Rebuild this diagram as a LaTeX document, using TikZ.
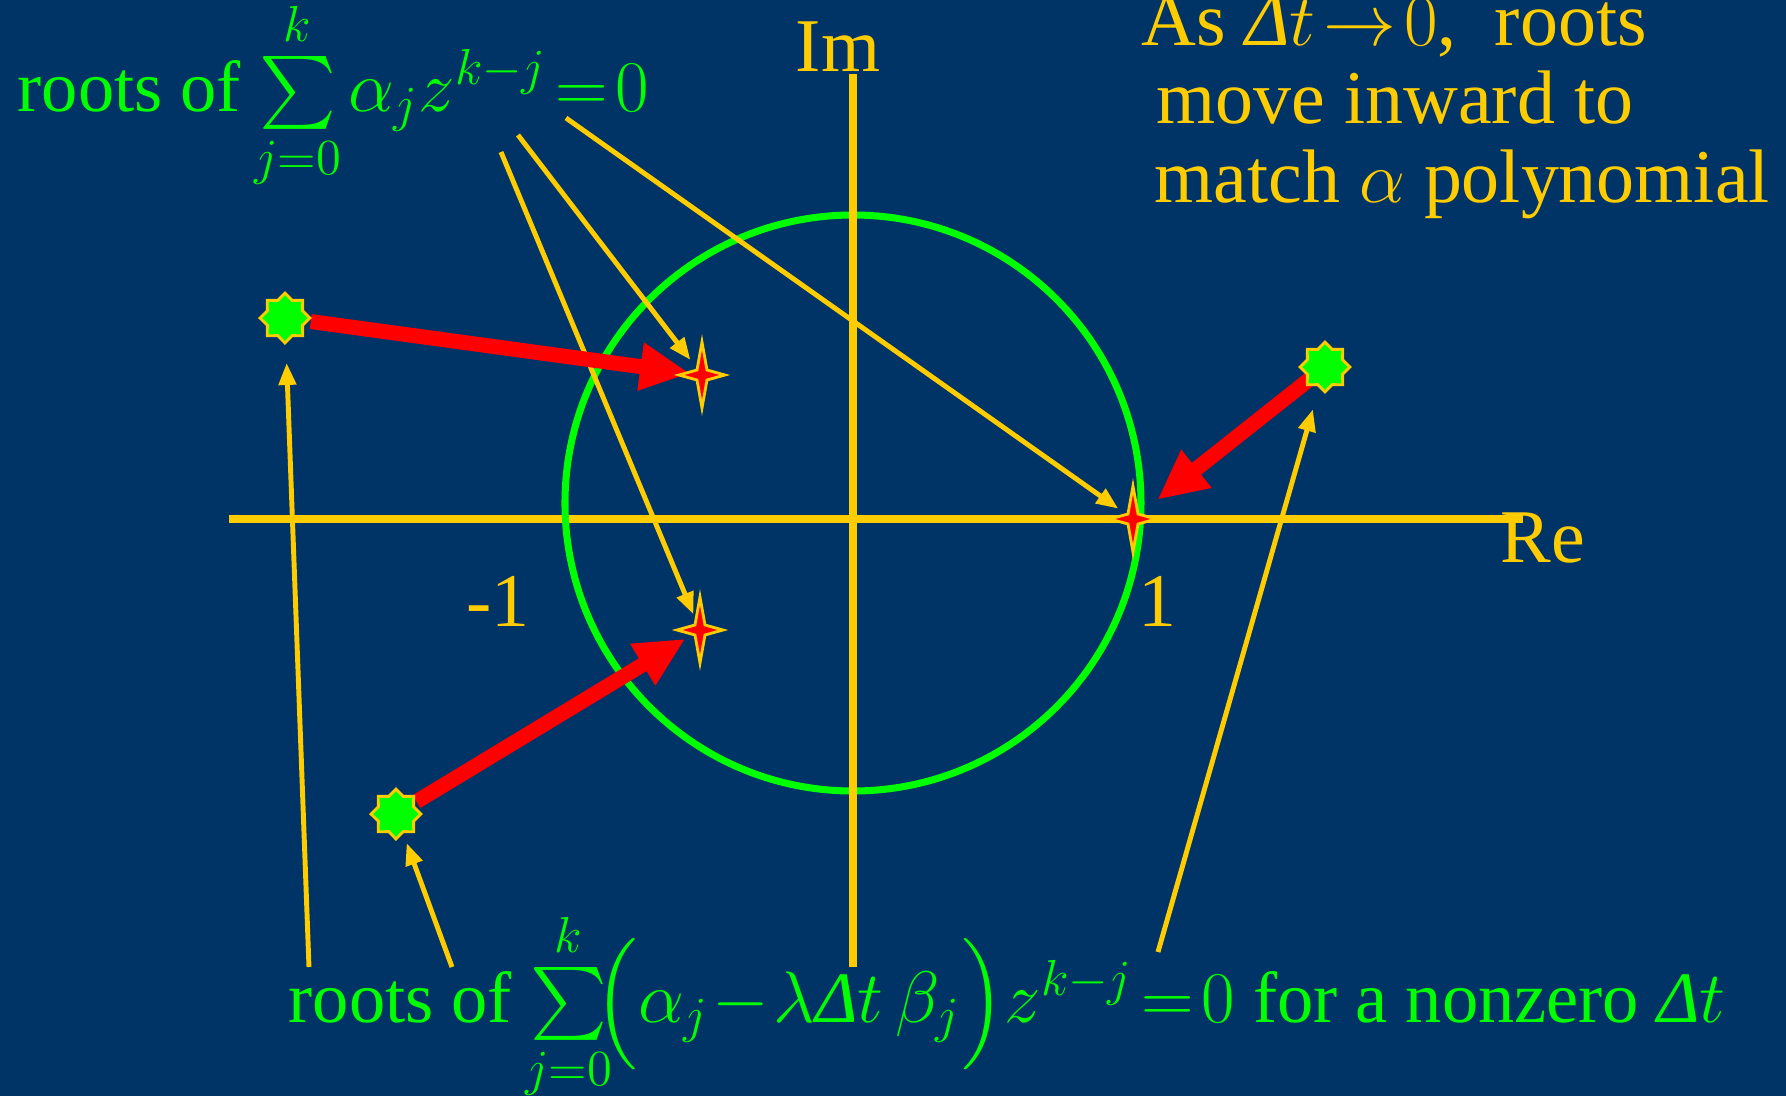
\documentclass[tikz,border=0pt]{standalone}
\usepackage{exscale}
\usepackage{fontspec}
\setmainfont{Liberation Serif}
\usetikzlibrary{arrows.meta,shapes.geometric}
\definecolor{zpBackFill}{HTML}{003366}
\definecolor{zpYellowLine}{HTML}{FFCC00}
\definecolor{zpGreenLine}{HTML}{00FF00}
\definecolor{zpRedLine}{HTML}{FF0000}
\newcommand\zpClap[1]{\makebox[0pt]{$\scriptstyle #1$}}
\newcommand\zpDelta{\mbox{\itshape Δ}}

\tikzset{
  zpFont/.style={font=\fontsize{20.6}{22}\selectfont, inner sep=0pt},
  zpNoteFont/.style={font=\fontsize{21.6}{22}\selectfont, inner sep=0pt},
  zpAxis/.style={zpYellowLine, line width=2pt},
  zpPointer/.style={zpYellowLine, line width=1.4pt,
    -{Triangle[length=0.22cm,width=0.17cm]}},
  zpShift/.style={zpRedLine, line width=0.15cm,
    -{Triangle[length=0.5cm,width=0.45cm]}},
  zpOldRoot/.style={star, star points=8, star point ratio=1.31,
    minimum size=0.5cm, inner sep=0pt, fill=zpGreenLine,
    draw=zpYellowLine, line width=0.8pt},
  zpNewRoot/.pic={
    \filldraw[fill=zpRedLine, draw=zpYellowLine, line width=0.8pt]
      (0,0.33) -- (0.05,0.05) -- (0.23,0) -- (0.05,-0.05)
      -- (0,-0.33) -- (-0.05,-0.05) -- (-0.23,0) -- (-0.05,0.05) -- cycle;
  }
}

\begin{document}
\thickmuskip=2mu\relax
\medmuskip=1mu\relax
\begin{tikzpicture}

\def\R{2.88}      % radius of the unit circle
\def\cy{0.16}     % circle centre sits a little above the real axis

% --- BACKGROUND ---
\path[use as bounding box, fill=zpBackFill] (-8.53,-5.77) rectangle (9.33,5.19);

% --- AXES AND UNIT CIRCLE ---
\draw[zpAxis] (-6.24,0) -- (6.70,0);                 % real axis
\draw[zpGreenLine, line width=2pt] (0,\cy) circle (\R);
\draw[zpAxis] (0,-4.48) -- (0,4.45);                 % imaginary axis

\node[zpNoteFont, zpYellowLine, anchor=base] (imLabel) at (-0.15,4.48) {Im};
\node[zpNoteFont, zpYellowLine, anchor=base west] (reLabel) at (6.47,-0.43) {Re};
\node[zpNoteFont, zpYellowLine, anchor=base] (minusOne) at (-3.55,-1.07) {-1};
\node[zpNoteFont, zpYellowLine, anchor=base] (plusOne) at (3.04,-1.07) {1};

% --- ROOT POSITIONS ---
\coordinate (dtRootUL) at (-5.68,2.01);
\coordinate (dtRootLL) at (-4.57,-2.95);
\coordinate (dtRootR)  at (4.72,1.52);
\coordinate (alRootU)  at (-1.51,1.44);
\coordinate (alRootL)  at (-1.53,-1.11);
\coordinate (alRootOne) at (2.80,0);

% --- LABELS ---
\node[zpFont, zpGreenLine, anchor=base west] (alphaLabel) at (-8.36,4.08)
  {roots of $\sum\limits_{\zpClap{j=0}}^{k}\alpha_j z^{k-j} = 0$};
\node[zpFont, zpGreenLine, anchor=base west] (dtLabel) at (-5.65,-5.03)
  {roots of $\sum\limits_{\zpClap{j=0}}^{k}\!\Bigl(\alpha_j-\lambda\zpDelta t\,\beta_j\Bigr)z^{k-j}=0$ for a nonzero $\zpDelta t$};
\node[zpNoteFont, zpYellowLine, anchor=base west] (noteOne) at (2.88,4.74)
  {As $\zpDelta t\to 0$, \ roots};
\node[zpNoteFont, zpYellowLine, anchor=base west] (noteTwo) at (3.03,3.96)
  {move inward to};
\node[zpNoteFont, zpYellowLine, anchor=base west] (noteThree) at (3.01,3.17)
  {match $\alpha$ polynomial};

% --- POINTERS FROM THE LABELS ---
\coordinate (alphaTail1) at (-2.87,4.01);
\coordinate (alphaTail2) at (-3.35,3.84);
\coordinate (alphaTail3) at (-3.52,3.67);
\coordinate (dtTail1) at (-5.44,-4.48);
\coordinate (dtTail2) at (-4.01,-4.48);
\coordinate (dtTail3) at (3.05,-4.33);

\draw[zpPointer, shorten >=0.18cm] (alphaTail1) -- (alRootOne);
\draw[zpPointer, shorten >=0.19cm] (alphaTail2) -- (alRootU);
\draw[zpPointer, shorten >=0.17cm] (alphaTail3) -- (alRootL);
\draw[zpPointer, shorten >=0.45cm] (dtTail1) -- (dtRootUL);
\draw[zpPointer, shorten >=0.31cm] (dtTail2) -- (dtRootLL);
\draw[zpPointer, shorten >=0.44cm] (dtTail3) -- (dtRootR);

% --- ROOT MOTION AS dt -> 0 ---
\draw[zpShift, shorten <=0.26cm, shorten >=0.12cm] (dtRootUL) -- (alRootU);
\draw[zpShift, shorten <=0.24cm, shorten >=0.17cm] (dtRootLL) -- (alRootL);
\draw[zpShift, shorten <=0.18cm, shorten >=0.31cm] (dtRootR) -- (alRootOne);

% --- ROOT MARKERS ---
\node[zpOldRoot] (dtStarUL) at (dtRootUL) {};
\node[zpOldRoot] (dtStarLL) at (dtRootLL) {};
\node[zpOldRoot] (dtStarR)  at (dtRootR) {};
\pic at (alRootU) {zpNewRoot};
\pic at (alRootL) {zpNewRoot};
\pic at (alRootOne) {zpNewRoot};

\end{tikzpicture}
\end{document}
